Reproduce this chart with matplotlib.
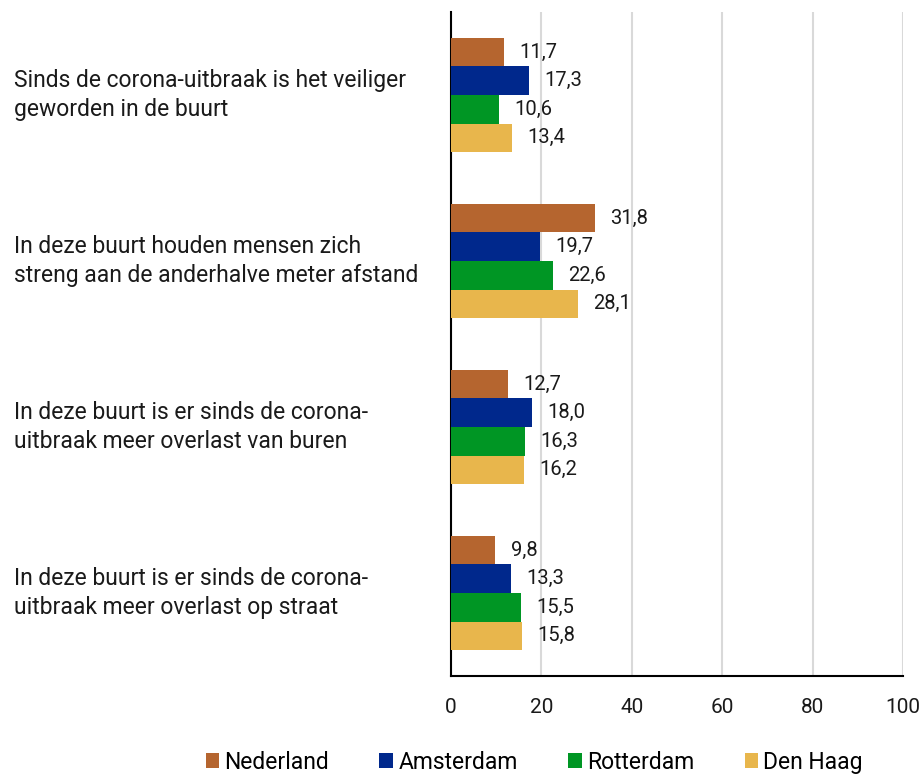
import numpy as np
import matplotlib.pyplot as plt
import matplotlib.transforms as mtransforms

plt.rcParams['font.family'] = ['Roboto', 'DejaVu Sans']

# Statements (top to bottom) and percentage per region
statements = [
    'Sinds de corona-uitbraak is het veiliger\ngeworden in de buurt',
    'In deze buurt houden mensen zich\nstreng aan de anderhalve meter afstand',
    'In deze buurt is er sinds de corona-\nuitbraak meer overlast van buren',
    'In deze buurt is er sinds de corona-\nuitbraak meer overlast op straat',
]
regions = ['Nederland', 'Amsterdam', 'Rotterdam', 'Den Haag']
nederland = [11.7, 31.8, 12.7, 9.8]
amsterdam = [17.3, 19.7, 18.0, 13.3]
rotterdam = [10.6, 22.6, 16.3, 15.5]
den_haag = [13.4, 28.1, 16.2, 15.8]
colors = ['#B5652F', '#00288C', '#009624', '#E8B64C']

series = [nederland, amsterdam, rotterdam, den_haag]

fig = plt.figure(figsize=(9.21, 7.76), dpi=100)
ax = fig.add_axes([0.4897, 0.1289, 0.4908, 0.8556])

bar_h = 0.172
y = np.arange(len(statements))
for i, (vals, col, name) in enumerate(zip(series, colors, regions)):
    pos = y + (i - 1.5) * bar_h
    ax.barh(pos, vals, height=bar_h, color=col, label=name, zorder=3)
    for p, v in zip(pos, vals):
        ax.annotate(f'{v:.1f}'.replace('.', ','), (v, p), xytext=(11, 0),
                    textcoords='offset points', ha='left', va='center',
                    fontsize=14.5, color='#1a1a1a')

ax.set_ylim(len(statements) - 0.5, -0.5)
ax.set_xlim(0, 100)
ax.set_xticks([0, 20, 40, 60, 80, 100])
ax.tick_params(axis='x', length=0, pad=16, labelsize=15, colors='#1a1a1a')
ax.set_yticks([])
ax.grid(axis='x', color='#d9d9d9', linewidth=1.5, zorder=0)
for s in ['top', 'right']:
    ax.spines[s].set_visible(False)
ax.spines['left'].set_linewidth(1.5)
ax.spines['bottom'].set_linewidth(1.5)

trans = mtransforms.blended_transform_factory(fig.transFigure, ax.transData)
for yy, txt in zip(y, statements):
    ax.text(0.015, yy, txt, transform=trans, ha='left', va='center',
            fontsize=16.5, color='#1a1a1a', linespacing=1.35, clip_on=False)

fig.legend(loc='center', bbox_to_anchor=(0.58, 0.018), ncol=4, frameon=False,
           fontsize=16.5, handlelength=0.6, handleheight=0.6, handletextpad=0.22,
           columnspacing=2.2)

fig.savefig('out.png', dpi=100)
